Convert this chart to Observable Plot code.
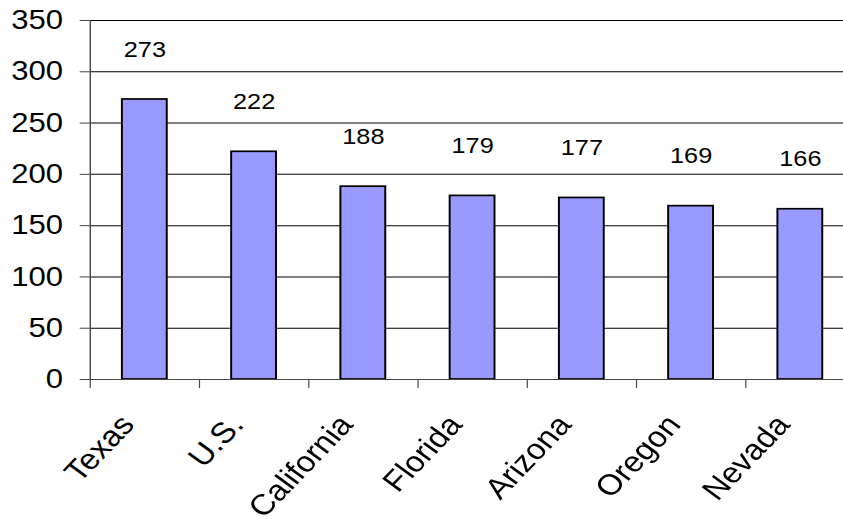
<!DOCTYPE html>
<html>
<head>
<meta charset="utf-8">
<script src="https://cdn.jsdelivr.net/npm/d3@7"></script>
<script src="https://cdn.jsdelivr.net/npm/@observablehq/plot@0.6"></script>
<style>
  html, body { margin: 0; padding: 0; background: #fff; overflow: hidden; width: 843px; height: 519px; }
  /* the chart is laid out narrow and widened horizontally, which also widens the lettering */
  #chart { width: 743px; transform: scaleX(1.15); transform-origin: 0 0; }
</style>
</head>
<body>
<div id="chart"></div>
<script>
const states = ["Texas", "U.S.", "California", "Florida", "Arizona", "Oregon", "Nevada"];
const counts = [273, 222, 188, 179, 177, 169, 166];
const yTicks = [0, 50, 100, 150, 200, 250, 300, 350];

const rows = states.map((state, i) => ({state, count: counts[i]}));

const W = 743, H = 519, ML = 78, MR = 0, MT = 20, MB = 140;
const band = (W - ML - MR) / states.length;

const chart = Plot.plot({
  width: W,
  height: H,
  marginLeft: ML,
  marginRight: MR,
  marginTop: MT,
  marginBottom: MB,
  style: {fontFamily: "'Liberation Sans', Arial, Helvetica, sans-serif", background: "#fff", color: "#000", overflow: "visible"},
  x: {domain: states, padding: 0, axis: null},
  y: {domain: [0, 350], axis: null},
  marks: [
    Plot.gridY(yTicks.filter(d => d > 0), {stroke: "#000", strokeOpacity: 1, strokeWidth: 1}),
    Plot.barY(rows, {x: "state", y: "count", fill: "#9999ff", stroke: "#000", strokeWidth: 1.7, insetLeft: 28, insetRight: 28}),
    Plot.ruleY([0], {stroke: "#444", strokeWidth: 1.2}),
    Plot.ruleX([states[0]], {dx: -band / 2, stroke: "#444", strokeWidth: 1.2}),
    Plot.axisY(yTicks, {tickSize: 8.7, tickPadding: 15, fontSize: 27, stroke: "#444", label: null}),
    // category separators below the baseline
    Plot.axisX(states, {tickSize: 9, tickFormat: () => "", dx: -band / 2, stroke: "#444", label: null}),
    Plot.axisX(states, {tickSize: 0, tickPadding: 40, tickRotate: -50, textAnchor: "end", lineAnchor: "middle", dx: -15, fontSize: 29, label: null}),
    Plot.text(rows, {x: "state", y: "count", text: d => String(d.count), dy: -50, fontSize: 22, lineAnchor: "middle"})
  ]
});

document.getElementById("chart").append(chart);
</script>
</body>
</html>
